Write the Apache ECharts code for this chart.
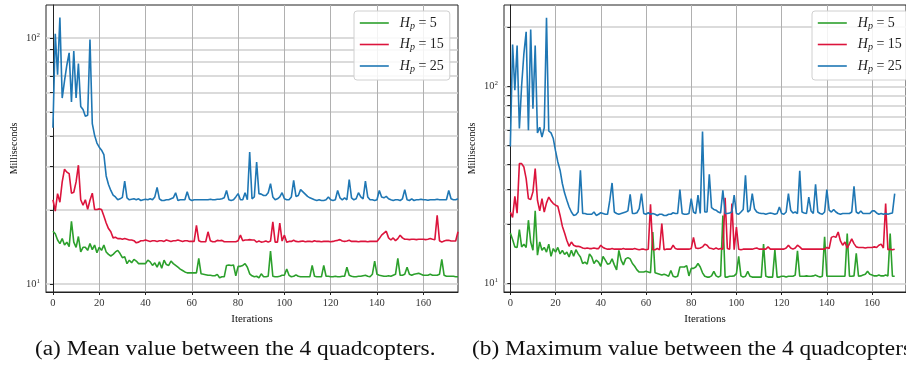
<!DOCTYPE html>
<html>
<head>
<meta charset="utf-8">
<script src="https://cdn.jsdelivr.net/npm/echarts@6/dist/echarts.min.js"></script>
<style>
  html, body { margin: 0; padding: 0; background: #fff; }
  #chart { width: 906px; height: 369px; }
</style>
</head>
<body>
<div id="chart"></div>
<script>
// x ticks (iterations) and y grid values (log axis, minor grid included)
const iterTicks = [0, 20, 40, 60, 80, 100, 120, 140, 160];
const yGridMean = [10, 20, 30, 40, 50, 60, 70, 80, 90, 100];
const yGridMax = [10, 20, 30, 40, 50, 60, 70, 80, 90, 100, 200];
const yLabelVals = [10, 100];
const seriesNames = ['H_p = 5', 'H_p = 15', 'H_p = 25'];
const captions = ['(a) Mean value between the 4 quadcopters.', '(b) Maximum value between the 4 quadcopters.'];

// (a) mean value, ms per iteration (index = iteration)
const meanHp5 = [
  16.4, 16.0, 15.1, 14.6, 15.3, 14.4, 14.8, 14.2, 18.0, 14.8,
  14.1, 15.6, 13.5, 14.1, 14.1, 13.7, 14.6, 13.8, 14.4, 13.4,
  14.1, 13.7, 14.4, 13.5, 13.2, 13.0, 13.2, 13.5, 13.7, 13.3,
  12.8, 12.9, 12.1, 12.5, 12.2, 12.6, 12.4, 12.1, 12.1, 12.1,
  12.1, 12.5, 12.3, 11.9, 12.2, 11.7, 12.3, 11.6, 12.5, 12.0,
  11.9, 12.4, 12.1, 11.9, 11.7, 11.5, 11.35, 11.2, 11.1, 11.1,
  11.1, 11.1, 11.1, 12.7, 11.0, 10.95, 10.9, 10.85, 10.85, 10.8,
  10.8, 10.95, 10.6, 10.7, 10.7, 11.9, 11.95, 11.9, 11.95, 10.8,
  11.8, 11.8, 11.9, 12.1, 11.7, 11.0, 10.8, 10.7, 10.75, 10.6,
  11.0, 10.7, 10.7, 10.75, 13.6, 10.75, 10.7, 10.7, 10.75, 10.85,
  10.85, 11.5, 10.85, 10.7, 10.75, 10.9, 10.75, 10.7, 10.7, 10.7,
  10.7, 10.7, 11.9, 10.75, 10.7, 10.7, 10.7, 11.9, 10.75, 10.75,
  10.7, 10.7, 10.75, 10.7, 10.7, 10.75, 10.75, 11.7, 10.85, 10.75,
  10.7, 10.7, 10.75, 10.75, 10.8, 10.85, 10.75, 10.7, 10.95, 12.4,
  10.95, 10.85, 10.8, 10.75, 10.75, 10.8, 10.75, 10.85, 10.95, 12.7,
  10.85, 10.85, 10.95, 11.7, 10.95, 10.85, 10.95, 11.0, 11.05, 10.95,
  10.85, 10.85, 10.85, 10.95, 10.85, 10.85, 10.85, 10.95, 12.6, 10.85,
  10.75, 10.75, 10.75, 10.75, 10.7, 10.7
];
const meanHp15 = [
  22.0, 19.8, 23.3, 21.5, 26.0, 29.3, 28.5, 28.1, 23.4, 23.6,
  26.0, 30.4, 22.0, 20.9, 22.0, 20.1, 21.9, 23.4, 20.1, 20.1,
  20.2, 20.1, 18.9, 17.7, 16.8, 16.3, 15.4, 15.5, 15.3, 15.3,
  15.2, 15.3, 15.2, 15.1, 15.1, 15.0, 14.7, 14.8, 15.0, 15.0,
  15.1, 15.0, 14.9, 15.0, 15.0, 14.9, 15.0, 15.0, 14.9, 15.1,
  15.0, 14.9, 15.0, 15.0, 15.1, 15.0, 14.9, 15.0, 15.0, 14.9,
  14.9, 14.9, 17.3, 15.0, 14.85, 14.85, 14.85, 16.3, 15.0, 14.85,
  14.85, 15.05, 15.0, 15.05, 14.85, 14.85, 14.85, 14.85, 14.85, 14.85,
  15.0, 15.8, 15.0, 15.1, 15.1, 15.15, 15.1, 15.1, 14.8, 14.95,
  14.8, 14.85, 14.95, 14.8, 14.95, 17.9, 14.8, 14.8, 17.7, 14.95,
  15.8, 14.8, 14.9, 14.9, 15.05, 14.9, 14.85, 14.9, 14.95, 14.85,
  14.9, 14.9, 14.85, 15.0, 14.9, 14.9, 14.85, 14.9, 14.9, 14.9,
  14.85, 14.9, 15.0, 15.05, 15.15, 14.95, 14.9, 14.95, 15.05, 14.9,
  14.9, 14.9, 14.85, 14.9, 14.9, 14.9, 14.85, 14.9, 14.9, 14.9,
  14.9, 15.3, 15.8, 16.1, 16.4, 15.4, 15.1, 15.4, 15.0, 15.3,
  15.8, 15.4, 15.2, 15.2, 15.15, 15.2, 15.2, 15.15, 15.2, 15.2,
  15.2, 15.15, 15.2, 15.3, 15.2, 15.15, 19.0, 15.0, 14.8, 14.95,
  15.05, 15.05, 14.95, 14.95, 14.95, 16.3
];
const meanHp25 = [
  43.2, 104, 71, 121, 57, 67, 77.5, 87, 55, 88.6,
  57, 78.7, 52.7, 51.2, 48.1, 48.5, 98.5, 44.9, 40.2, 37.4,
  36.0, 35.0, 33.6, 27.5, 25.4, 24.0, 23.0, 22.6, 22.0, 22.2,
  22.5, 26.2, 22.4, 22.0, 22.1, 22.2, 22.0, 22.2, 21.85, 22.0,
  22.1, 22.0, 22.2, 22.0, 22.6, 24.7, 22.2, 21.85, 21.85, 22.0,
  22.0, 22.2, 22.4, 23.5, 21.85, 22.0, 22.0, 22.0, 23.7, 22.1,
  21.85, 22.0, 22.0, 22.0, 22.0, 22.0, 22.0, 22.0, 22.1, 22.0,
  22.0, 22.1, 22.1, 22.2, 22.4, 24.0, 22.0, 21.85, 22.0, 22.6,
  23.3, 22.0, 22.0, 23.5, 22.0, 34.4, 22.2, 22.6, 31.3, 23.3,
  23.2, 22.9, 22.9, 23.5, 25.6, 22.6, 22.0, 22.2, 22.6, 23.5,
  22.2, 22.0, 22.0, 22.6, 26.4, 22.7, 22.9, 24.2, 23.7, 23.2,
  22.7, 22.4, 22.2, 22.0, 21.85, 22.0, 21.85, 21.85, 22.0, 22.6,
  22.0, 21.85, 22.0, 24.0, 22.4, 22.0, 22.4, 22.0, 26.6, 22.4,
  22.0, 22.2, 23.5, 22.6, 22.2, 26.2, 22.6, 22.0, 22.0, 21.85,
  22.0, 24.0, 22.6, 22.4, 22.7, 22.2, 22.0, 21.85, 22.0, 22.0,
  21.85, 22.2, 24.2, 22.0, 21.85, 22.2, 21.85, 22.0, 22.0, 22.1,
  22.0, 22.0, 21.9, 22.0, 22.0, 22.0, 22.1, 22.0, 22.0, 22.0,
  22.0, 24.0, 22.2, 22.0, 22.0, 22.2
];

// (b) maximum value, ms per iteration
const maxHp5 = [
  18.0, 16.7, 15.3, 15.2, 18.7, 15.3, 15.8, 15.2, 20.9, 16.2,
  14.7, 23.3, 13.9, 16.2, 14.7, 15.2, 14.4, 15.8, 13.7, 15.0,
  14.4, 15.2, 14.1, 14.7, 14.0, 14.4, 13.6, 14.7, 13.7, 14.8,
  14.1, 13.6, 12.6, 12.8, 12.5, 14.1, 13.6, 12.6, 13.1, 12.8,
  12.2, 13.7, 13.1, 12.5, 12.6, 13.3, 12.4, 11.7, 14.7, 13.1,
  12.4, 13.3, 13.5, 13.3, 12.6, 12.2, 11.7, 11.4, 11.4, 11.4,
  11.5, 11.4, 11.3, 18.2, 11.3, 11.2, 11.1, 11.0, 11.1, 11.0,
  10.85, 11.6, 10.85, 10.75, 10.85, 12.1, 12.1, 12.1, 12.3, 10.9,
  11.9, 11.9, 12.1, 12.6, 12.1, 11.3, 10.85, 10.75, 10.75, 10.9,
  11.5, 10.9, 10.75, 10.9, 22.1, 10.75, 10.75, 10.85, 10.85, 10.9,
  11.2, 13.7, 10.9, 10.75, 10.85, 11.5, 10.85, 10.75, 10.75, 10.75,
  10.75, 10.75, 15.8, 10.85, 10.75, 10.75, 10.75, 14.8, 10.75, 10.75,
  10.85, 10.85, 10.75, 10.85, 10.85, 10.85, 11.0, 14.6, 10.85, 10.85,
  10.85, 10.9, 10.85, 10.85, 10.9, 11.0, 10.85, 10.75, 10.85, 17.2,
  10.85, 10.85, 10.85, 10.85, 10.85, 10.85, 10.85, 10.85, 10.85, 17.9,
  10.85, 10.85, 10.9, 14.2, 10.85, 10.9, 11.0, 11.1, 11.5, 11.1,
  11.0, 10.9, 10.9, 11.0, 10.9, 10.9, 11.0, 10.9, 17.9, 10.85,
  10.85
];
const maxHp15 = [
  23.0, 21.6, 27.6, 22.7, 40.5, 40.5, 38.9, 34.0, 26.9, 26.6,
  29.1, 38.2, 26.4, 23.3, 26.9, 23.0, 25.6, 27.4, 26.2, 25.4,
  24.9, 24.6, 22.1, 19.5, 18.0, 16.5, 15.4, 16.2, 15.6, 15.4,
  15.4, 15.3, 15.1, 15.0, 15.1, 15.0, 15.0, 15.1, 15.0, 15.0,
  15.6, 15.2, 15.0, 14.9, 14.9, 15.0, 14.9, 14.9, 14.9, 14.9,
  15.0, 14.9, 14.9, 14.9, 14.9, 15.0, 14.9, 14.8, 14.9, 14.9,
  14.8, 14.9, 25.2, 14.8, 14.8, 15.0, 14.8, 20.1, 14.8, 14.9,
  14.9, 14.9, 15.6, 15.0, 14.9, 14.9, 14.9, 14.9, 14.9, 14.9,
  15.0, 17.1, 15.1, 15.0, 15.1, 15.3, 15.8, 15.6, 15.1, 15.0,
  14.9, 15.1, 14.9, 15.0, 14.9, 27.2, 15.0, 14.9, 25.4, 14.8,
  19.3, 14.9, 14.8, 14.9, 14.9, 14.9, 14.9, 14.9, 15.0, 15.1,
  14.9, 14.9, 14.9, 14.9, 15.3, 14.9, 14.9, 14.9, 14.9, 14.9,
  14.9, 14.9, 15.1, 15.6, 15.1, 14.9, 15.1, 15.6, 15.3, 14.9,
  14.9, 14.9, 14.9, 14.9, 14.9, 14.9, 14.9, 14.9, 14.9, 14.9,
  15.2, 15.0, 17.1, 17.3, 17.1, 18.2, 16.4, 15.6, 16.2, 15.1,
  15.9, 16.8, 15.9, 15.3, 15.2, 15.2, 15.2, 15.1, 15.2, 15.2,
  15.2, 15.3, 15.2, 15.6, 15.8, 15.1, 25.4, 14.8, 14.9, 14.8,
  14.9
];
const maxHp25 = [
  49.5, 163, 95.5, 161, 61, 101, 146.6, 189, 59.8, 194,
  77, 161, 58, 62, 55.3, 61.5, 223, 59.3, 58, 54.3,
  47, 41.3, 37.5, 32.1, 28.7, 26.4, 24.4, 23.0, 22.1, 22.3,
  23.0, 37.5, 22.6, 22.6, 22.4, 22.4, 22.4, 23.0, 22.1, 22.4,
  22.8, 22.6, 22.4, 22.4, 26.4, 32.3, 23.0, 22.6, 22.4, 22.6,
  22.8, 23.0, 23.3, 28.3, 22.6, 22.6, 22.8, 23.9, 28.5, 22.6,
  22.4, 22.8, 22.4, 22.6, 22.4, 22.1, 22.4, 22.4, 22.1, 22.1,
  22.4, 22.4, 22.8, 22.6, 22.6, 29.9, 22.6, 22.4, 22.4, 22.6,
  26.9, 23.0, 22.6, 28.0, 22.6, 59.0, 23.0, 23.0, 35.7, 24.2,
  23.7, 23.5, 23.0, 22.75, 29.6, 22.6, 22.6, 22.75, 23.0, 28.0,
  22.6, 22.4, 23.0, 23.7, 35.3, 23.0, 23.5, 28.5, 23.9, 23.0,
  22.75, 22.6, 22.6, 22.4, 22.6, 22.75, 22.6, 22.4, 22.6, 24.4,
  22.6, 22.4, 23.0, 28.5, 23.5, 22.75, 23.0, 22.6, 37.2, 23.0,
  22.75, 22.6, 27.4, 23.3, 22.6, 31.8, 23.0, 22.6, 22.4, 23.0,
  29.9, 23.5, 23.0, 23.7, 23.0, 22.6, 22.4, 22.6, 22.6, 22.6,
  22.6, 23.0, 31.1, 23.0, 22.6, 23.3, 22.6, 22.6, 22.6, 22.6,
  23.3, 23.3, 22.75, 22.4, 22.6, 22.4, 22.6, 22.4, 22.6, 22.75,
  28.5
];

const FONT = 'Liberation Serif';
const GREEN = '#2ca02c';
const RED = '#dc143c';
const BLUE = '#1f77b4';

const chart = echarts.init(document.getElementById('chart'), null, { renderer: 'canvas' });

function xAxisFor(gridIndex, min, max) {
  return {
    type: 'value',
    gridIndex,
    min,
    max,
    name: 'Iterations',
    nameLocation: 'middle',
    nameGap: 18,
    nameTextStyle: { fontFamily: FONT, fontSize: 11, color: '#111' },
    axisLine: { show: true, onZero: false, lineStyle: { color: '#222', width: 1 } },
    axisTick: { show: true, length: 3, customValues: iterTicks, lineStyle: { color: '#222' } },
    axisLabel: { customValues: iterTicks, fontFamily: FONT, fontSize: 10.5, color: '#333', margin: 6 },
    splitLine: { show: true, lineStyle: { color: '#b0b0b0', width: 1 } },
  };
}

function yAxisFor(gridIndex, min, max, gridVals) {
  return {
    type: 'log',
    logBase: 10,
    gridIndex,
    min,
    max,
    name: 'Milliseconds',
    nameLocation: 'middle',
    nameGap: 27,
    nameRotate: 90,
    nameTextStyle: { fontFamily: FONT, fontSize: 10, color: '#111' },
    axisLine: { show: true, lineStyle: { color: '#222', width: 1 } },
    axisTick: { show: true, length: 3, customValues: gridVals, lineStyle: { color: '#222' } },
    axisLabel: {
      customValues: yLabelVals,
      margin: 6,
      formatter: (v) => '{b|10}{e|' + Math.round(Math.log10(v)) + '}',
      rich: {
        b: { fontFamily: FONT, fontSize: 10.5, color: '#333' },
        e: { fontFamily: FONT, fontSize: 7, color: '#333', verticalAlign: 'top', padding: [0, 0, 6, 0] },
      },
    },
    splitLine: { show: true, lineStyle: { color: '#cfcfcf', width: 1.5 } },
  };
}

function line(name, values, idx, color) {
  return {
    name,
    type: 'line',
    xAxisIndex: idx,
    yAxisIndex: idx,
    data: values.map((v, i) => [i, v]),
    symbol: 'none',
    lineStyle: { color, width: 1.6 },
    itemStyle: { color },
    z: 3,
  };
}

function legendAt(left) {
  return {
    orient: 'vertical',
    left,
    top: 11,
    data: seriesNames,
    itemWidth: 29,
    itemHeight: 16,
    itemGap: 6.5,
    padding: [5, 6, 6, 5],
    backgroundColor: 'rgba(255,255,255,0.85)',
    borderColor: '#d0d0d0',
    borderWidth: 1,
    borderRadius: 3,
    selectedMode: false,
    itemStyle: { opacity: 0 },
    lineStyle: { width: 1.6 },
    formatter: (name) => '{h|H}{p|p}{t| = ' + name.split('= ')[1] + '}',
    textStyle: {
      rich: {
        h: { fontFamily: FONT, fontStyle: 'italic', fontSize: 14, color: '#222', padding: [0, 0, 0, 6] },
        p: { fontFamily: FONT, fontStyle: 'italic', fontSize: 10, color: '#222', verticalAlign: 'bottom', padding: [6, 0, 0, 0] },
        t: { fontFamily: FONT, fontSize: 14, color: '#222' },
      },
    },
  };
}

function caption(text, x) {
  return {
    type: 'text',
    x,
    y: 350,
    scaleX: 1.165,
    style: { text, x: 0, y: 0, verticalAlign: 'middle', font: '20px "Liberation Serif"', fill: '#111' },
  };
}

chart.setOption({
  animation: false,
  backgroundColor: '#fff',
  grid: [
    { left: 46, top: 5, width: 412, height: 287, show: true, borderColor: '#222', borderWidth: 1, backgroundColor: 'transparent' },
    { left: 504, top: 5, width: 413, height: 287, show: true, borderColor: '#222', borderWidth: 1, backgroundColor: 'transparent' },
  ],
  xAxis: [xAxisFor(0, -3, 175), xAxisFor(1, -2.8, 175)],
  yAxis: [yAxisFor(0, 9.28, 136.2, yGridMean), yAxisFor(1, 9.03, 258.6, yGridMax)],
  legend: [legendAt(354), legendAt(812)],
  graphic: [caption(captions[0], 35), caption(captions[1], 472)],
  series: [
    line(seriesNames[0], meanHp5, 0, GREEN),
    line(seriesNames[1], meanHp15, 0, RED),
    line(seriesNames[2], meanHp25, 0, BLUE),
    line(seriesNames[0], maxHp5, 1, GREEN),
    line(seriesNames[1], maxHp15, 1, RED),
    line(seriesNames[2], maxHp25, 1, BLUE),
  ],
});

window.addEventListener('resize', () => chart.resize());
</script>
</body>
</html>
